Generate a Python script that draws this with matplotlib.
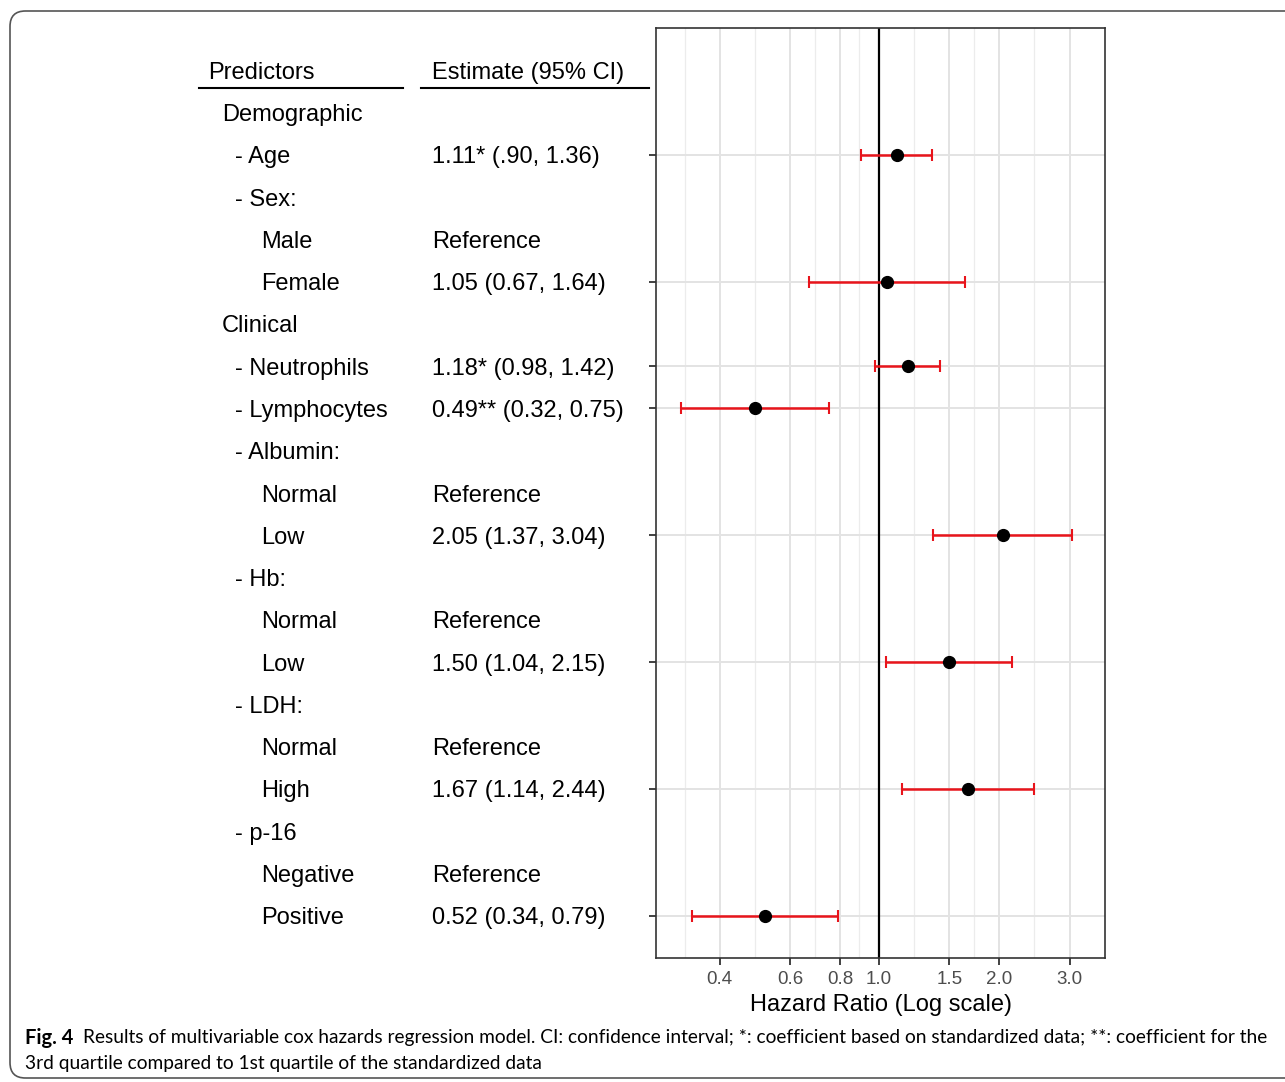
import numpy as np
import matplotlib.pyplot as plt
from matplotlib import transforms
from matplotlib.patches import FancyBboxPatch

plt.rcParams['font.family'] = ['Liberation Sans', 'DejaVu Sans']

# table rows (top to bottom)
labels = ["Demographic", "- Age", "- Sex:", "Male", "Female", "Clinical",
          "- Neutrophils", "- Lymphocytes", "- Albumin:", "Normal", "Low",
          "- Hb:", "Normal", "Low", "- LDH:", "Normal", "High", "- p-16",
          "Negative", "Positive"]
levels = [0, 1, 1, 2, 2, 0, 1, 1, 1, 2, 2, 1, 2, 2, 1, 2, 2, 1, 2, 2]
est_text = ["", "1.11* (.90, 1.36)", "", "Reference", "1.05 (0.67, 1.64)", "",
            "1.18* (0.98, 1.42)", "0.49** (0.32, 0.75)", "", "Reference",
            "2.05 (1.37, 3.04)", "", "Reference", "1.50 (1.04, 2.15)", "",
            "Reference", "1.67 (1.14, 2.44)", "", "Reference",
            "0.52 (0.34, 0.79)"]
nan = np.nan
hr = [nan, 1.11, nan, nan, 1.05, nan, 1.18, 0.49, nan, nan, 2.05, nan, nan,
      1.50, nan, nan, 1.67, nan, nan, 0.52]
lo = [nan, 0.90, nan, nan, 0.67, nan, 0.98, 0.32, nan, nan, 1.37, nan, nan,
      1.04, nan, nan, 1.14, nan, nan, 0.34]
hi = [nan, 1.36, nan, nan, 1.64, nan, 1.42, 0.75, nan, nan, 3.04, nan, nan,
      2.15, nan, nan, 2.44, nan, nan, 0.79]
x_breaks = [0.4, 0.6, 0.8, 1.0, 1.5, 2.0, 3.0]
x_labels = ["0.4", "0.6", "0.8", "1.0", "1.5", "2.0", "3.0"]

W, H = 1285, 1082
fig = plt.figure(figsize=(W / 100, H / 100), dpi=100)
ax = fig.add_axes([656 / W, 1 - 958 / H, 449 / W, 930 / H])

hr = np.array(hr)
lo = np.array(lo)
hi = np.array(hi)
rows = np.arange(len(labels))
ok = ~np.isnan(hr)

# grid (ggplot theme_bw style, minor breaks halfway in log space)
lb = np.log(x_breaks)
ext = np.concatenate([[lb[0] - (lb[1] - lb[0])], lb])
minor = np.exp((ext[:-1] + ext[1:]) / 2)
for m in minor:
    ax.axvline(m, color='#ececec', lw=0.9, zorder=0)
for b in x_breaks:
    ax.axvline(b, color='#e3e3e3', lw=1.4, zorder=0)
for r in rows[ok]:
    ax.axhline(r, color='#e3e3e3', lw=1.4, zorder=0)

ax.axvline(1.0, color='black', lw=1.6, zorder=1)
ax.errorbar(hr[ok], rows[ok], xerr=[hr[ok] - lo[ok], hi[ok] - hr[ok]],
            fmt='none', ecolor='#e8141b', elinewidth=1.8, capsize=4.5,
            capthick=1.5, zorder=2)
ax.plot(hr[ok], rows[ok], 'o', color='black', ms=8.5, zorder=3)

ax.set_xscale('log')
ax.set_xlim(0.277, 3.68)
ax.set_ylim(20, -2)
ax.set_xticks(x_breaks)
ax.set_xticklabels(x_labels)
ax.xaxis.set_minor_locator(plt.NullLocator())
ax.set_yticks(rows[ok])
ax.set_yticklabels([])
ax.tick_params(axis='both', color='#333333', length=5, width=1.3)
ax.tick_params(axis='x', labelsize=13.5, labelcolor='#4d4d4d', pad=4)
for s in ax.spines.values():
    s.set_color('#333333')
    s.set_linewidth(1.2)
ax.set_xlabel('Hazard Ratio (Log scale)', fontsize=17, labelpad=5)

# table on the left, x in figure pixels, y in row units
tr = transforms.blended_transform_factory(fig.transFigure, ax.transData)
indent = [222, 235, 261]
fs = 17
ax.text(208 / W, -1, "Predictors", transform=tr, fontsize=fs,
        va='center_baseline', clip_on=False)
ax.text(432 / W, -1, "Estimate (95% CI)", transform=tr, fontsize=fs,
        va='center_baseline', clip_on=False)
ax.plot([199 / W, 403 / W], [-0.57, -0.57], transform=tr, color='black',
        lw=1.5, clip_on=False)
ax.plot([421 / W, 649 / W], [-0.57, -0.57], transform=tr, color='black',
        lw=1.5, clip_on=False)
for r, (lab, lev, et) in enumerate(zip(labels, levels, est_text)):
    ax.text(indent[lev] / W, r, lab, transform=tr, fontsize=fs,
            va='center_baseline', clip_on=False)
    if et:
        ax.text(432 / W, r, et, transform=tr, fontsize=fs,
                va='center_baseline', clip_on=False)

# outer frame and caption
frame = FancyBboxPatch((10 / W, 4 / H), 1400 / W, 1067 / H,
                       boxstyle='round,pad=0,rounding_size=0.012',
                       transform=fig.transFigure, fill=False,
                       edgecolor='#555555', lw=1.2, mutation_aspect=W / H)
fig.patches.append(frame)

cap1 = ("Results of multivariable cox hazards regression model. CI: confidence "
        "interval; *: coefficient based on standardized data; **: coefficient for the")
cap2 = "3rd quartile compared to 1st quartile of the standardized data"
fig.text(25 / W, 1 - 1038 / H, "Fig. 4", fontsize=14.5, fontweight='bold',
         family='Lato', va='center')
fig.text(83 / W, 1 - 1038 / H, cap1, fontsize=13.75, family='Lato',
         va='center')
fig.text(25 / W, 1 - 1063 / H, cap2, fontsize=13.75, family='Lato',
         va='center')

fig.savefig('out.png', dpi=100)
